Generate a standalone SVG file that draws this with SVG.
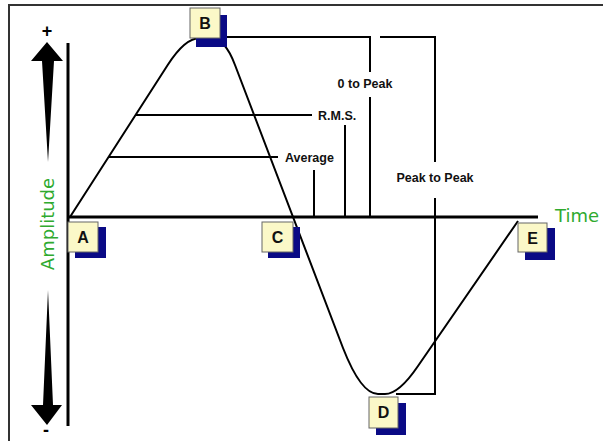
<svg xmlns="http://www.w3.org/2000/svg" width="603" height="441" viewBox="0 0 603 441">
<style>
.ln{stroke:#000;stroke-width:2;fill:none}
.ax{stroke:#000;stroke-width:3;fill:none}
.lbl{font-family:"Liberation Sans",Arial,sans-serif;font-weight:bold;font-size:12.5px;fill:#111}
.grn{font-family:"DejaVu Sans",Verdana,sans-serif;font-size:18px;fill:#2faa2f}
.box{fill:#fbf8c8;stroke:#666;stroke-width:1}
.sh{fill:#0a0a85}
.bt{font-family:"Liberation Sans",Arial,sans-serif;font-weight:bold;font-size:16px;fill:#111;text-anchor:middle}
</style>
<rect width="603" height="441" fill="#fff"/>
<g id="frame">
<path d="M9 441 V5 H603" stroke="#333" stroke-width="2" fill="none"/>
</g>
<g id="amplitude-axis">
<polygon points="47,42 63,61 54,61 48,162 42,61 31,61" fill="#000"/>
<polygon points="48,290 53,405 62,405 47,425 31,405 43,405" fill="#000"/>
<text x="47" y="37" font-family="Liberation Sans,Arial,sans-serif" font-weight="bold" font-size="18" text-anchor="middle">+</text>
<text x="46" y="436" font-family="Liberation Sans,Arial,sans-serif" font-weight="bold" font-size="18" text-anchor="middle">-</text>
<text class="grn" transform="translate(54,224) rotate(-90)" text-anchor="middle">Amplitude</text>
<line class="ax" x1="68" y1="43" x2="68" y2="426" stroke-width="2.5"/>
</g>
<g id="time-axis">
<line class="ax" x1="68" y1="217" x2="538" y2="217"/>
<text class="grn" x="555" y="222">Time</text>
</g>
<g id="connectors">
<path class="ln" d="M70 217 L167.7 65 Q185 38 200 38 L210 38 Q225 38 235 65 L343 348 Q361 394 378 394 L385 394 Q399 394 418 366 L518 221"/>
<path class="ln" d="M136 115 H312"/>
<path class="ln" d="M109 157 H278"/>
<path class="ln" d="M314 170 V217"/>
<path class="ln" d="M345 125 V217"/>
<path class="ln" d="M227 37 H370 V72"/>
<path class="ln" d="M370 97 V217"/>
<path class="ln" d="M380 37 H435 V162"/>
<path class="ln" d="M435 198 V394 H396"/>
</g>
<g id="labels">
<text class="lbl" x="365" y="88" text-anchor="middle">0 to Peak</text>
<text class="lbl" x="318" y="120">R.M.S.</text>
<text class="lbl" x="285" y="162">Average</text>
<text class="lbl" x="435" y="182" text-anchor="middle">Peak to Peak</text>
</g>
<g id="node-A">
<rect class="sh" x="75" y="227" width="31" height="31"/>
<rect class="box" x="68" y="222" width="30" height="30"/>
<text class="bt" x="83" y="243">A</text>
</g>
<g id="node-B">
<rect class="sh" x="196" y="15" width="31" height="32"/>
<rect class="box" x="190" y="8" width="30" height="30"/>
<text class="bt" x="205" y="29">B</text>
</g>
<g id="node-C">
<rect class="sh" x="268" y="227" width="32" height="31"/>
<rect class="box" x="262" y="222" width="31" height="30"/>
<text class="bt" x="277.5" y="243">C</text>
</g>
<g id="node-D">
<rect class="sh" x="376" y="403" width="30" height="32"/>
<rect class="box" x="369" y="397" width="29" height="31"/>
<text class="bt" x="383.5" y="418">D</text>
</g>
<g id="node-E">
<rect class="sh" x="525" y="228" width="30" height="32"/>
<rect class="box" x="518" y="223" width="29" height="29"/>
<text class="bt" x="532.5" y="244">E</text>
</g>
</svg>
